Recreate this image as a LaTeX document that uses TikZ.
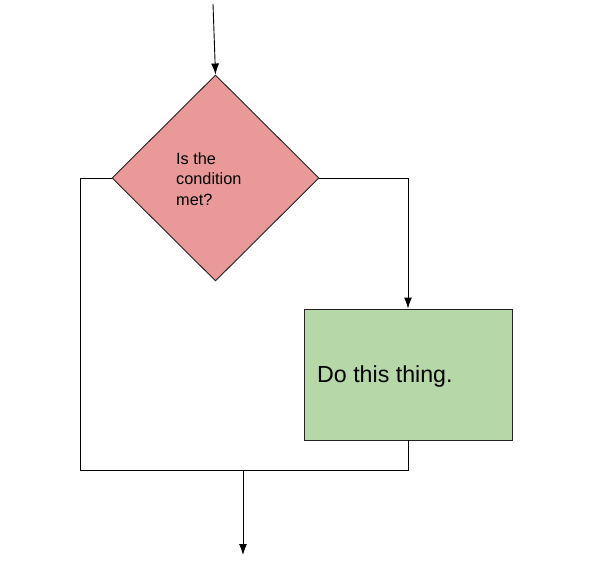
\documentclass[tikz,border=0pt]{standalone}
\usepackage{fontspec}
\setmainfont{Liberation Sans}
\usetikzlibrary{shapes.geometric,arrows.meta}
\definecolor{dfill}{HTML}{EA9999}
\definecolor{bfill}{HTML}{B6D7A8}
\definecolor{edge}{HTML}{222222}
\begin{document}
\begin{tikzpicture}[x=1pt,y=1pt,
  conn/.style={draw=black,line width=0.9pt},
  arr/.style={conn,-{Latex[length=11pt,width=8pt]}},
  decision/.style={shape=diamond,draw=edge,line width=0.9pt,fill=dfill,minimum width=207pt,minimum height=206pt,inner sep=0pt,aspect=1},
  action/.style={shape=rectangle,draw=edge,line width=0.9pt,fill=bfill,minimum width=208pt,minimum height=131pt,inner sep=0pt}]
\useasboundingbox (0,0) rectangle (603,-583);
\node[decision] (dec) at (215.5,-178) {};
\node[anchor=west,align=left,font=\fontsize{16.3}{20.5}\selectfont,inner sep=0pt] (q) at (176,-179) {Is the\\condition\\met?};
\node[action] (act) at (408,-374.5) {};
\node[anchor=west,font=\fontsize{23.2}{26}\selectfont,inner sep=0pt] (t) at (317,-377) {Do this thing.};
\coordinate (start) at (213,-4);
\coordinate (lt) at (80,-178);
\coordinate (lb) at (80,-470);
\coordinate (rt) at (408,-178);
\coordinate (rb) at (408,-470);
\coordinate (mj) at (243,-470);
\coordinate (end) at (243,-555);
\draw[arr] (start) -- (dec.north);
\draw[arr] (dec.east) -- (rt) -- (act.north);
\draw[conn] (dec.west) -- (lt) -- (lb) -- (rb) -- (act.south);
\draw[arr] (mj) -- (end);
\end{tikzpicture}
\end{document}
